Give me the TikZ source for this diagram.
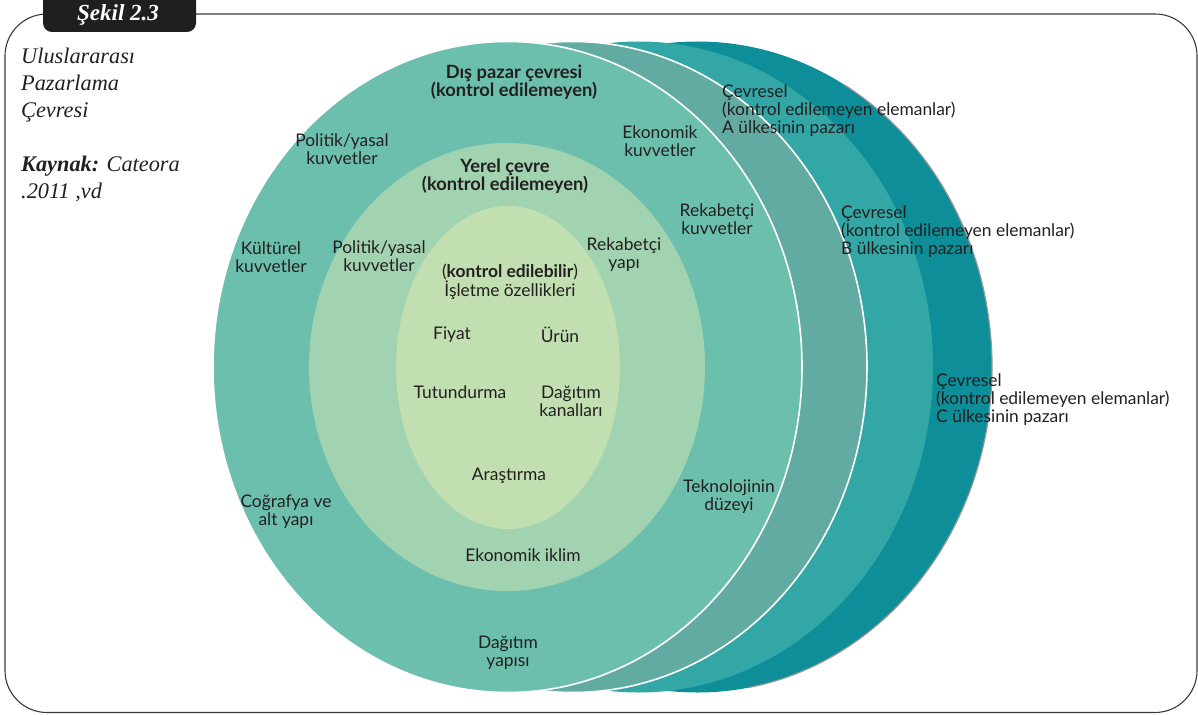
\documentclass[tikz,border=0pt]{standalone}
\usepackage{fontspec}
\setmainfont{Liberation Serif}
\newfontfamily\gill{Lato}
\definecolor{cmain}{HTML}{6DBFAD}
\definecolor{clocal}{HTML}{A1D3B0}
\definecolor{cinner}{HTML}{C1DFB1}
\definecolor{cA}{HTML}{62ABA3}
\definecolor{cB}{HTML}{33A6A6}
\definecolor{cC}{HTML}{0E8E99}
\definecolor{txt}{HTML}{231F20}
\definecolor{framecol}{HTML}{3A3A3A}
\begin{document}
\begin{tikzpicture}[x=1pt,y=-1pt,
  lbl/.style={font=\gill\fontsize{17.4}{18}\selectfont, text=txt, align=center, inner sep=0pt},
  blbl/.style={lbl, font=\gill\bfseries\fontsize{18.3}{18.5}\selectfont},
  side/.style={lbl, align=left, anchor=west},
  captxt/.style={font=\itshape\fontsize{22.3}{27}\selectfont, text=txt, align=left, inner sep=0pt}]
\useasboundingbox (0,0) rectangle (1198,714);
% frame
\draw[framecol, line width=1.1pt, rounded corners=42pt] (5,14) rectangle (1197,712.5);
% tab
\fill[black!88, rounded corners=9pt] (43,-10) rectangle (196,32);
\node[font=\bfseries\itshape\fontsize{23}{26}\selectfont, text=white, inner sep=0pt] (tab) at (118,15) {Şekil 2.3};
% caption
\node[captxt, anchor=west] (caption) at (21,125) {Uluslararası\\Pazarlama\\Çevresi\\[27pt]\textbf{Kaynak:} Cateora\\.2011 ,vd};
% ellipses, back to front
\fill[cC] (697.5,367) ellipse (294.5 and 325.5);
\draw[black!40, line width=1.2pt] (697.5,367) ++(-60:294.5 and 325.5) arc (-60:80:294.5 and 325.5);
\fill[cB] (638.5,367) ellipse (294.5 and 325.5);
\filldraw[fill=cA, draw=white, line width=1.6pt] (572.5,367) ellipse (294.5 and 325.5);
\filldraw[fill=cmain, draw=white, line width=1.6pt] (507.5,367) ellipse (294.5 and 325.5);
\fill[clocal] (507,367) ellipse (198 and 224);
\fill[cinner] (508,367.5) ellipse (112 and 161.5);
% outer ring labels
\node[blbl] (dis) at (514,82) {Dış pazar çevresi\\(kontrol edilemeyen)};
\node[lbl] (pol1) at (342,149) {Politik/yasal\\kuvvetler};
\node[lbl] (eko1) at (660,141.5) {Ekonomik\\kuvvetler};
\node[lbl] (rek1) at (717,219.5) {Rekabetçi\\kuvvetler};
\node[lbl] (kul) at (271,257.5) {Kültürel\\kuvvetler};
\node[lbl] (tek) at (729,497) {Teknolojinin\\düzeyi};
\node[lbl] (cog) at (286,511.5) {Coğrafya ve\\alt yapı};
\node[lbl] (dag1) at (508,652.5) {Dağıtım\\yapısı};
% local ring labels
\node[blbl] (yer) at (505,176) {Yerel çevre\\(kontrol edilemeyen)};
\node[lbl] (pol2) at (379,256) {Politik/yasal\\kuvvetler};
\node[lbl] (rek2) at (624,255) {Rekabetçi\\yapı};
\node[lbl] (iklim) at (523,555) {Ekonomik iklim};
% inner labels
\node[lbl] (kon) at (510,282) {(\textbf{kontrol edilebilir})\\İşletme özellikleri};
\node[lbl] (fiy) at (452,335) {Fiyat};
\node[lbl] (uru) at (560,335) {Ürün};
\node[lbl] (tut) at (460,392) {Tutundurma};
\node[lbl] (dag2) at (571,401) {Dağıtım\\kanalları};
\node[lbl] (ara) at (509,476) {Araştırma};
% country labels
\node[side] (ca) at (722,111) {Çevresel\\(kontrol edilemeyen elemanlar)\\A ülkesinin pazarı};
\node[side] (cb) at (841,232) {Çevresel\\(kontrol edilemeyen elemanlar)\\B ülkesinin pazarı};
\node[side] (cc) at (936,400) {Çevresel\\(kontrol edilemeyen elemanlar)\\C ülkesinin pazarı};
\end{tikzpicture}
\end{document}
